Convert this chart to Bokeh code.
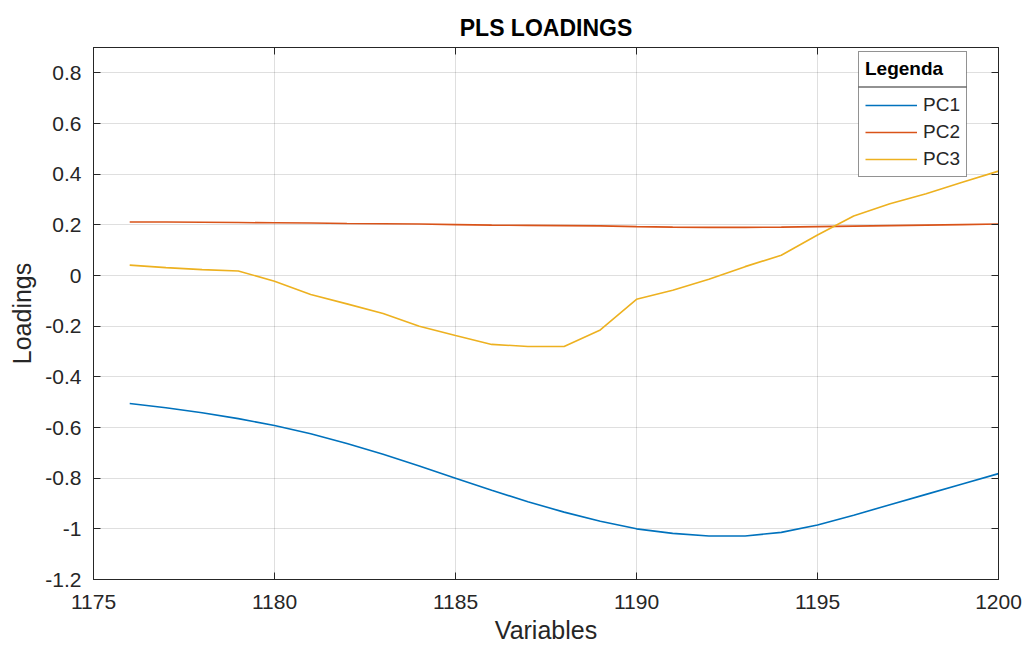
from bokeh.plotting import figure
from bokeh.models import (Legend, LegendItem, LinearAxis, FixedTicker, Range1d,
                          BoxAnnotation, Title)
from bokeh.embed import file_html
from bokeh.resources import INLINE

# Variable indices and PLS loadings for the first three components
variables = [1176, 1177, 1178, 1179, 1180, 1181, 1182, 1183, 1184, 1185,
             1186, 1187, 1188, 1189, 1190, 1191, 1192, 1193, 1194, 1195,
             1196, 1197, 1198, 1199, 1200]
pc1 = [-0.505, -0.522, -0.542, -0.565, -0.592, -0.625, -0.663, -0.706, -0.752, -0.800,
       -0.848, -0.893, -0.934, -0.970, -1.000, -1.018, -1.028, -1.028, -1.014, -0.985,
       -0.946, -0.905, -0.864, -0.823, -0.782]
pc2 = [0.211, 0.211, 0.210, 0.209, 0.208, 0.207, 0.205, 0.204, 0.203, 0.201,
       0.199, 0.198, 0.197, 0.196, 0.193, 0.191, 0.190, 0.190, 0.191, 0.193,
       0.195, 0.197, 0.199, 0.201, 0.203]
pc3 = [0.041, 0.031, 0.023, 0.018, -0.023, -0.075, -0.112, -0.150, -0.200, -0.237,
       -0.272, -0.280, -0.280, -0.215, -0.094, -0.058, -0.015, 0.035, 0.080, 0.160,
       0.235, 0.283, 0.323, 0.368, 0.412]

series_names = ["PC1", "PC2", "PC3"]
series_colors = ["#0072BD", "#D95319", "#EDB120"]

x_ticks = [1175, 1180, 1185, 1190, 1195, 1200]
y_ticks = [-1.2, -1.0, -0.8, -0.6, -0.4, -0.2, 0.0, 0.2, 0.4, 0.6, 0.8]
y_tick_labels = ["-1.2", "-1", "-0.8", "-0.6", "-0.4", "-0.2", "0", "0.2", "0.4", "0.6", "0.8"]

FONT = "Liberation Sans"
INK = "#262626"

p = figure(width=1025, height=650, output_backend="svg", toolbar_location=None,
           x_range=Range1d(1175, 1200), y_range=Range1d(-1.2, 0.9),
           min_border_left=93, min_border_right=27, min_border_top=47, min_border_bottom=71,
           x_axis_label="Variables", y_axis_label="Loadings")

p.title = Title(text="PLS LOADINGS", align="center", text_font=FONT,
                text_font_size="23px", text_font_style="bold", text_color="#000000",
                standoff=13)

p.background_fill_color = "white"
p.border_fill_color = "white"
p.outline_line_color = INK
p.outline_line_width = 1

# Axes: ticks pointing inward, labels outside
for ax in (p.xaxis[0], p.yaxis[0]):
    ax.axis_line_color = INK
    ax.major_tick_line_color = INK
    ax.major_tick_in = 7
    ax.major_tick_out = 0
    ax.minor_tick_line_color = None
    ax.major_label_text_font = FONT
    ax.major_label_text_font_size = "21px"
    ax.major_label_text_color = INK
    ax.axis_label_text_font = FONT
    ax.axis_label_text_font_size = "25px"
    ax.axis_label_text_font_style = "normal"
    ax.axis_label_text_color = INK

p.xaxis[0].ticker = FixedTicker(ticks=x_ticks)
p.xaxis[0].major_label_standoff = 15
p.xaxis[0].axis_label_standoff = 4
p.yaxis[0].ticker = FixedTicker(ticks=y_ticks)
p.yaxis[0].major_label_overrides = {t: s for t, s in zip(y_ticks, y_tick_labels)}
p.yaxis[0].major_label_standoff = 12
p.yaxis[0].axis_label_standoff = 6

# Box axes on the top and right with inward ticks only, no labels drawn
box_axis_style = dict(major_label_text_color=None, major_label_text_font_size="1px",
                      major_label_standoff=0, major_tick_in=7, major_tick_out=0,
                      minor_tick_line_color=None, axis_line_color=INK,
                      major_tick_line_color=INK)
top_axis = LinearAxis(ticker=FixedTicker(ticks=x_ticks), **box_axis_style)
right_axis = LinearAxis(ticker=FixedTicker(ticks=y_ticks), **box_axis_style)
p.add_layout(top_axis, "above")
p.add_layout(right_axis, "right")

p.xgrid.ticker = FixedTicker(ticks=x_ticks)
p.ygrid.ticker = FixedTicker(ticks=y_ticks)
for g in (p.xgrid[0], p.ygrid[0]):
    g.grid_line_color = INK
    g.grid_line_alpha = 0.15
    g.grid_line_width = 1

renderers = []
for name, ys, color in zip(series_names, [pc1, pc2, pc3], series_colors):
    r = p.line(variables, ys, line_color=color, line_width=1.6)
    renderers.append(r)

# Legend panel: white backing and a rule under the title, legend drawn on top
canvas_units = dict(left_units="canvas", right_units="canvas",
                    top_units="canvas", bottom_units="canvas")
p.add_layout(BoxAnnotation(left=858, right=966, top=52, bottom=177,
                           fill_color="white", fill_alpha=1.0, line_color=None,
                           **canvas_units))
p.add_layout(BoxAnnotation(left=858, right=966, top=86, bottom=87,
                           fill_color=INK, fill_alpha=1.0, line_color=None,
                           **canvas_units))

legend = Legend(items=[LegendItem(label=n, renderers=[r]) for n, r in zip(series_names, renderers)],
                title="Legenda", title_text_font=FONT, title_text_font_size="19px",
                title_text_font_style="bold", title_text_color="#000000", title_standoff=14,
                label_text_font=FONT, label_text_font_size="19px", label_text_color=INK,
                glyph_width=52, glyph_height=20, label_standoff=6, spacing=5,
                padding=6, margin=0, location=(765, 402),
                border_line_color=INK, border_line_width=1,
                background_fill_alpha=0.0)
p.add_layout(legend, "center")

open("out.html", "w").write(file_html(p, INLINE))
